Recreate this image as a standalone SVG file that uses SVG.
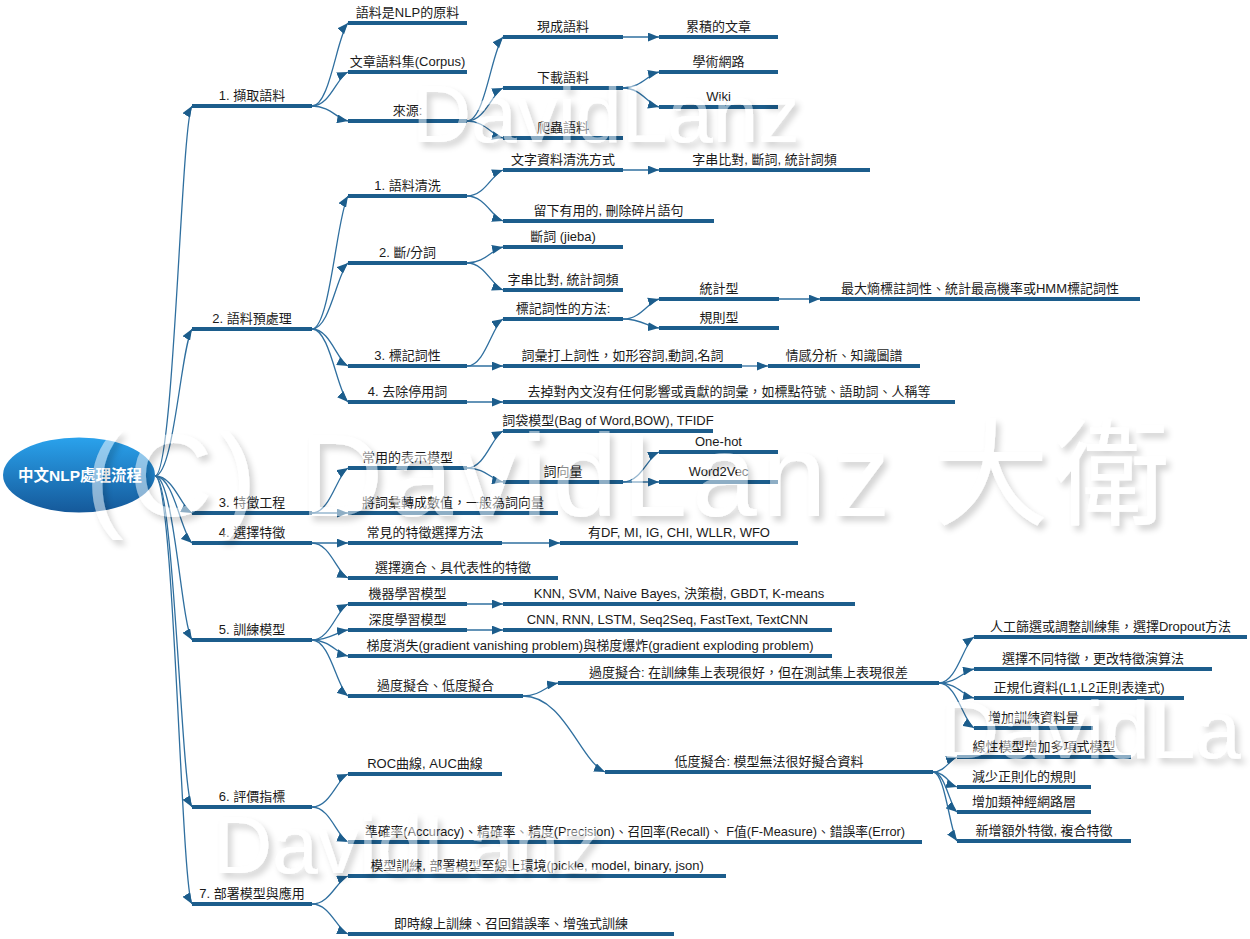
<svg xmlns="http://www.w3.org/2000/svg" width="1250" height="939" viewBox="0 0 1250 939">
<defs>
<style>
.u{stroke:#1c5d8c;stroke-width:4;stroke-linecap:butt}
.t{font-family:"Liberation Sans","Noto Sans CJK TC",sans-serif;font-size:13px;fill:#1a1a1a;text-anchor:middle}
.c{fill:none;stroke:#2f6f9f;stroke-width:1.3;marker-end:url(#arr)}
.wm{font-family:"Liberation Sans","Noto Sans CJK TC",sans-serif;fill:#ffffff}
</style>
<marker id="arr" viewBox="0 0 10 8" refX="10" refY="4" markerWidth="11" markerHeight="9" markerUnits="userSpaceOnUse" orient="auto">
<path d="M0,0 L10,4 L0,8 z" fill="#1c5d8c"/>
</marker>
<linearGradient id="rootg" x1="0" y1="0" x2="0" y2="1">
<stop offset="0" stop-color="#2aa2ec"/>
<stop offset="1" stop-color="#15599a"/>
</linearGradient>
<filter id="wmf" x="-5%" y="-30%" width="115%" height="170%">
<feGaussianBlur in="SourceAlpha" stdDeviation="3"/>
<feOffset dx="4" dy="5" result="b"/>
<feFlood flood-color="#000" flood-opacity="0.35"/>
<feComposite in2="b" operator="in"/>
<feMerge><feMergeNode/><feMergeNode in="SourceGraphic"/></feMerge>
</filter>
</defs>
<rect width="1250" height="939" fill="#ffffff"/>

<g id="connectors">
<path class="c" d="M155,476 C174,476 181,124 192,106"/>
<path class="c" d="M155,476 C174,476 181,347 192,329"/>
<path class="c" d="M155,476 C174,476 181,507.5 192,513"/>
<path class="c" d="M155,476 C174,476 181,533 192,543"/>
<path class="c" d="M155,476 C174,476 181,622 192,640"/>
<path class="c" d="M155,476 C174,476 181,789 192,807"/>
<path class="c" d="M155,476 C174,476 181,886 192,904"/>
<path class="c" d="M312,106 C330,106 337,35.5 348,23"/>
<path class="c" d="M312,106 C330,106 337,77 348,72"/>
<path class="c" d="M312,106 C330,106 337,118.8 348,121"/>
<path class="c" d="M467,121 C485,121 492,49.6 503,37"/>
<path class="c" d="M467,121 C485,121 492,93 503,88"/>
<path class="c" d="M467,121 C485,121 492,135.5 503,138"/>
<path class="c" d="M623,37 L659,37"/>
<path class="c" d="M623,88 C641,88 648,74.4 659,72"/>
<path class="c" d="M623,88 C641,88 648,104.2 659,107"/>
<path class="c" d="M312,329 C330,329 337,214 348,196"/>
<path class="c" d="M312,329 C330,329 337,273 348,263"/>
<path class="c" d="M312,329 C330,329 337,360.5 348,366"/>
<path class="c" d="M312,329 C330,329 337,391 348,402"/>
<path class="c" d="M467,196 C485,196 492,173.9 503,170"/>
<path class="c" d="M467,196 C485,196 492,217.3 503,221"/>
<path class="c" d="M623,170 L659,170"/>
<path class="c" d="M467,263 C485,263 492,249.4 503,247"/>
<path class="c" d="M467,263 C485,263 492,286 503,290"/>
<path class="c" d="M467,366 C485,366 492,326 503,319"/>
<path class="c" d="M467,366 L503,366"/>
<path class="c" d="M623,319 C641,319 648,302 659,299"/>
<path class="c" d="M623,319 C641,319 648,326.7 659,328"/>
<path class="c" d="M779,299 L820,299"/>
<path class="c" d="M742,366 L768,366"/>
<path class="c" d="M467,402 L503,402"/>
<path class="c" d="M312,513 C330,513 337,475 348,468"/>
<path class="c" d="M312,513 L348,513"/>
<path class="c" d="M467,468 C485,468 492,436.5 503,431"/>
<path class="c" d="M467,468 C485,468 492,479.9 503,482"/>
<path class="c" d="M623,482 C641,482 648,456.5 659,452"/>
<path class="c" d="M623,482 L659,482"/>
<path class="c" d="M312,543 L348,543"/>
<path class="c" d="M312,543 C330,543 337,573 348,578"/>
<path class="c" d="M502,543 L560,543"/>
<path class="c" d="M312,640 C330,640 337,609.4 348,604"/>
<path class="c" d="M312,640 C330,640 337,631.5 348,630"/>
<path class="c" d="M312,640 C330,640 337,653.6 348,656"/>
<path class="c" d="M312,640 C330,640 337,687.6 348,696"/>
<path class="c" d="M467,604 L503,604"/>
<path class="c" d="M467,630 L503,630"/>
<path class="c" d="M523,696 C540.5,696 547.5,685 558,683"/>
<path class="c" d="M523,696 C564,696 580,760.6 605,772"/>
<path class="c" d="M939,683 C956.5,683 963.5,643.9 974,637"/>
<path class="c" d="M939,683 C956.5,683 963.5,671.1 974,669"/>
<path class="c" d="M939,683 C956.5,683 963.5,695.8 974,698"/>
<path class="c" d="M939,683 C956.5,683 963.5,721.3 974,728"/>
<path class="c" d="M933,772 C945,772 949.8,759.3 957,757"/>
<path class="c" d="M933,772 C945,772 949.8,784.8 957,787"/>
<path class="c" d="M933,772 C945,772 949.8,806 957,812"/>
<path class="c" d="M933,772 C945,772 949.8,830.7 957,841"/>
<path class="c" d="M312,807 C330,807 337,779 348,774"/>
<path class="c" d="M312,807 C330,807 337,836.8 348,842"/>
<path class="c" d="M312,904 C330,904 337,880.2 348,876"/>
<path class="c" d="M312,904 C330,904 337,929.5 348,934"/>
</g>

<g id="root">
<ellipse cx="79" cy="475" rx="76" ry="37.5" fill="url(#rootg)"/>
<text x="80" y="481" style="font-family:'Liberation Sans','Noto Sans CJK TC',sans-serif;font-size:15.5px;font-weight:bold;fill:#ffffff;text-anchor:middle">中文NLP處理流程</text>
</g>

<g id="s1"><line class="u" x1="192" y1="106" x2="312" y2="106"/><text class="t" x="252" y="100">1. 擷取語料</text></g>
<g id="s1a"><line class="u" x1="348" y1="23" x2="467" y2="23"/><text class="t" x="407.5" y="17">語料是NLP的原料</text></g>
<g id="s1b"><line class="u" x1="348" y1="72" x2="467" y2="72"/><text class="t" x="407.5" y="66">文章語料集(Corpus)</text></g>
<g id="s1c"><line class="u" x1="348" y1="121" x2="467" y2="121"/><text class="t" x="407.5" y="115">來源:</text></g>
<g id="s1c1"><line class="u" x1="503" y1="37" x2="623" y2="37"/><text class="t" x="563" y="31">現成語料</text></g>
<g id="s1c2"><line class="u" x1="503" y1="88" x2="623" y2="88"/><text class="t" x="563" y="82">下載語料</text></g>
<g id="s1c3"><line class="u" x1="503" y1="138" x2="623" y2="138"/><text class="t" x="563" y="132">爬蟲語料</text></g>
<g id="s1c1a"><line class="u" x1="659" y1="37" x2="778" y2="37"/><text class="t" x="718.5" y="31">累積的文章</text></g>
<g id="s1c2a"><line class="u" x1="659" y1="72" x2="778" y2="72"/><text class="t" x="718.5" y="66">學術網路</text></g>
<g id="s1c2b"><line class="u" x1="659" y1="107" x2="778" y2="107"/><text class="t" x="718.5" y="101">Wiki</text></g>

<g id="s2"><line class="u" x1="192" y1="329" x2="312" y2="329"/><text class="t" x="252" y="323">2. 語料預處理</text></g>
<g id="s2a"><line class="u" x1="348" y1="196" x2="467" y2="196"/><text class="t" x="407.5" y="190">1. 語料清洗</text></g>
<g id="s2a1"><line class="u" x1="503" y1="170" x2="623" y2="170"/><text class="t" x="563" y="164">文字資料清洗方式</text></g>
<g id="s2a1a"><line class="u" x1="659" y1="170" x2="870" y2="170"/><text class="t" x="764.5" y="164">字串比對, 斷詞, 統計詞頻</text></g>
<g id="s2a2"><line class="u" x1="503" y1="221" x2="714" y2="221"/><text class="t" x="608.5" y="215">留下有用的, 刪除碎片語句</text></g>
<g id="s2b"><line class="u" x1="348" y1="263" x2="467" y2="263"/><text class="t" x="407.5" y="257">2. 斷/分詞</text></g>
<g id="s2b1"><line class="u" x1="503" y1="247" x2="623" y2="247"/><text class="t" x="563" y="241">斷詞 (jieba)</text></g>
<g id="s2b2"><line class="u" x1="503" y1="290" x2="623" y2="290"/><text class="t" x="563" y="284">字串比對, 統計詞頻</text></g>
<g id="s2c"><line class="u" x1="348" y1="366" x2="467" y2="366"/><text class="t" x="407.5" y="360">3. 標記詞性</text></g>
<g id="s2c1"><line class="u" x1="503" y1="319" x2="623" y2="319"/><text class="t" x="563" y="313">標記詞性的方法:</text></g>
<g id="s2c1a"><line class="u" x1="659" y1="299" x2="779" y2="299"/><text class="t" x="719" y="293">統計型</text></g>
<g id="s2c1a1"><line class="u" x1="820" y1="299" x2="1140" y2="299"/><text class="t" x="980" y="293">最大熵標註詞性、統計最高機率或HMM標記詞性</text></g>
<g id="s2c1b"><line class="u" x1="659" y1="328" x2="779" y2="328"/><text class="t" x="719" y="322">規則型</text></g>
<g id="s2c2"><line class="u" x1="503" y1="366" x2="742" y2="366"/><text class="t" x="622.5" y="360">詞彙打上詞性，如形容詞,動詞,名詞</text></g>
<g id="s2c2a"><line class="u" x1="768" y1="366" x2="920" y2="366"/><text class="t" x="844" y="360">情感分析、知識圖譜</text></g>
<g id="s2d"><line class="u" x1="348" y1="402" x2="467" y2="402"/><text class="t" x="407.5" y="396">4. 去除停用詞</text></g>
<g id="s2d1"><line class="u" x1="503" y1="402" x2="955" y2="402"/><text class="t" x="729" y="396">去掉對內文沒有任何影響或貢獻的詞彙，如標點符號、語助詞、人稱等</text></g>

<g id="s3"><line class="u" x1="192" y1="513" x2="312" y2="513"/><text class="t" x="252" y="507">3. 特徵工程</text></g>
<g id="s3a"><line class="u" x1="348" y1="468" x2="467" y2="468"/><text class="t" x="407.5" y="462">常用的表示模型</text></g>
<g id="s3a1"><line class="u" x1="503" y1="431" x2="713" y2="431"/><text class="t" x="608" y="425">詞袋模型(Bag of Word,BOW), TFIDF</text></g>
<g id="s3a2"><line class="u" x1="503" y1="482" x2="623" y2="482"/><text class="t" x="563" y="476">詞向量</text></g>
<g id="s3a2a"><line class="u" x1="659" y1="452" x2="778" y2="452"/><text class="t" x="718.5" y="446">One-hot</text></g>
<g id="s3a2b"><line class="u" x1="659" y1="482" x2="778" y2="482"/><text class="t" x="718.5" y="476">Word2Vec</text></g>
<g id="s3b"><line class="u" x1="348" y1="513" x2="558" y2="513"/><text class="t" x="453" y="507">將詞彙轉成數值，一般為詞向量</text></g>

<g id="s4"><line class="u" x1="192" y1="543" x2="312" y2="543"/><text class="t" x="252" y="537">4. 選擇特徵</text></g>
<g id="s4a"><line class="u" x1="348" y1="543" x2="502" y2="543"/><text class="t" x="425" y="537">常見的特徵選擇方法</text></g>
<g id="s4a1"><line class="u" x1="560" y1="543" x2="798" y2="543"/><text class="t" x="679" y="537">有DF, MI, IG, CHI, WLLR, WFO</text></g>
<g id="s4b"><line class="u" x1="348" y1="578" x2="558" y2="578"/><text class="t" x="453" y="572">選擇適合、具代表性的特徵</text></g>

<g id="s5"><line class="u" x1="192" y1="640" x2="312" y2="640"/><text class="t" x="252" y="634">5. 訓練模型</text></g>
<g id="s5a"><line class="u" x1="348" y1="604" x2="467" y2="604"/><text class="t" x="407.5" y="598">機器學習模型</text></g>
<g id="s5a1"><line class="u" x1="503" y1="604" x2="855" y2="604"/><text class="t" x="679" y="598">KNN, SVM, Naive Bayes, 決策樹, GBDT, K-means</text></g>
<g id="s5b"><line class="u" x1="348" y1="630" x2="467" y2="630"/><text class="t" x="407.5" y="624">深度學習模型</text></g>
<g id="s5b1"><line class="u" x1="503" y1="630" x2="832" y2="630"/><text class="t" x="667.5" y="624">CNN, RNN, LSTM, Seq2Seq, FastText, TextCNN</text></g>
<g id="s5c"><line class="u" x1="348" y1="656" x2="832" y2="656"/><text class="t" x="590" y="650">梯度消失(gradient vanishing problem)與梯度爆炸(gradient exploding problem)</text></g>
<g id="s5d"><line class="u" x1="348" y1="696" x2="523" y2="696"/><text class="t" x="435.5" y="690">過度擬合、低度擬合</text></g>
<g id="s5d1"><line class="u" x1="558" y1="683" x2="939" y2="683"/><text class="t" x="748.5" y="677">過度擬合: 在訓練集上表現很好，但在測試集上表現很差</text></g>
<g id="s5d1a"><line class="u" x1="974" y1="637" x2="1247" y2="637"/><text class="t" x="1110.5" y="631">人工篩選或調整訓練集，選擇Dropout方法</text></g>
<g id="s5d1b"><line class="u" x1="974" y1="669" x2="1212" y2="669"/><text class="t" x="1093" y="663">選擇不同特徵，更改特徵演算法</text></g>
<g id="s5d1c"><line class="u" x1="974" y1="698" x2="1184" y2="698"/><text class="t" x="1079" y="692">正規化資料(L1,L2正則表達式)</text></g>
<g id="s5d1d"><line class="u" x1="974" y1="728" x2="1093" y2="728"/><text class="t" x="1033.5" y="722">增加訓練資料量</text></g>
<g id="s5d2"><line class="u" x1="605" y1="772" x2="933" y2="772"/><text class="t" x="769" y="766">低度擬合: 模型無法很好擬合資料</text></g>
<g id="s5d2a"><line class="u" x1="957" y1="757" x2="1131" y2="757"/><text class="t" x="1044" y="751">線性模型增加多項式模型</text></g>
<g id="s5d2b"><line class="u" x1="957" y1="787" x2="1091" y2="787"/><text class="t" x="1024" y="781">減少正則化的規則</text></g>
<g id="s5d2c"><line class="u" x1="957" y1="812" x2="1091" y2="812"/><text class="t" x="1024" y="806">增加類神經網路層</text></g>
<g id="s5d2d"><line class="u" x1="957" y1="841" x2="1131" y2="841"/><text class="t" x="1044" y="835">新增額外特徵, 複合特徵</text></g>

<g id="s6"><line class="u" x1="192" y1="807" x2="312" y2="807"/><text class="t" x="252" y="801">6. 評價指標</text></g>
<g id="s6a"><line class="u" x1="348" y1="774" x2="502" y2="774"/><text class="t" x="425" y="768">ROC曲線, AUC曲線</text></g>
<g id="s6b"><line class="u" x1="348" y1="842" x2="922" y2="842"/><text class="t" x="635" y="836" textLength="540" lengthAdjust="spacingAndGlyphs">準確率(Accuracy)、精確率、精度(Precision)、召回率(Recall)、 F值(F-Measure)、錯誤率(Error)</text></g>

<g id="s7"><line class="u" x1="192" y1="904" x2="312" y2="904"/><text class="t" x="252" y="898">7. 部署模型與應用</text></g>
<g id="s7a"><line class="u" x1="348" y1="876" x2="726" y2="876"/><text class="t" x="537" y="870">模型訓練, 部署模型至線上環境(pickle, model, binary, json)</text></g>
<g id="s7b"><line class="u" x1="348" y1="934" x2="674" y2="934"/><text class="t" x="511" y="928">即時線上訓練、召回錯誤率、增強式訓練</text></g>

<g id="watermark" opacity="0.5" filter="url(#wmf)">
<text class="wm" x="412" y="142" font-size="82">DavidLanz</text>
<text class="wm" x="85" y="516" font-size="116" textLength="1085" lengthAdjust="spacing">(C) DavidLanz 大衛</text>
<text class="wm" x="940" y="758" font-size="82">DavidLa</text>
<text class="wm" x="213" y="873" font-size="82">DavidLanz</text>
</g>
</svg>
